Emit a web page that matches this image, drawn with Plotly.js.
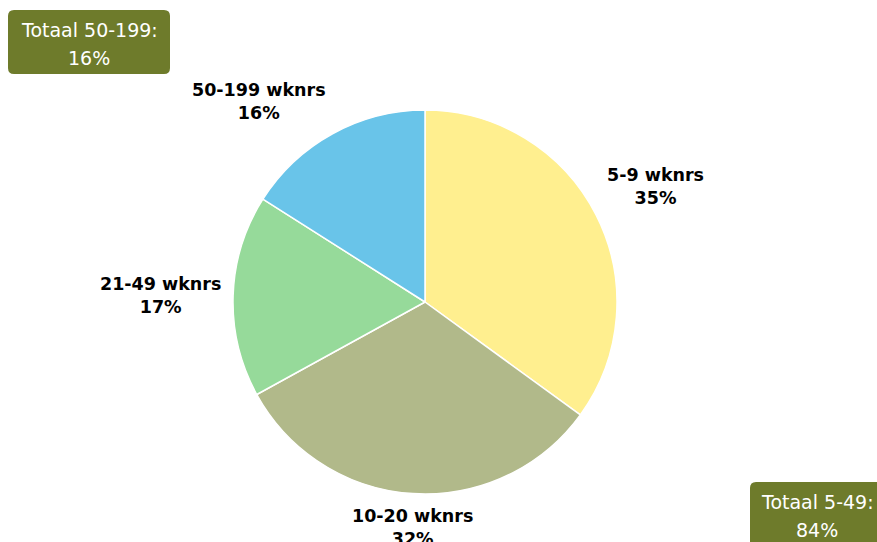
<!DOCTYPE html>
<html>
<head>
<meta charset="utf-8">
<script src="https://cdn.plot.ly/plotly-3.0.1.min.js"></script>
<style>html,body{margin:0;padding:0;background:#fff;}#chart{width:877px;height:542px;}</style>
</head>
<body>
<div id="chart"></div>
<script>
const categories = ['5-9 wknrs', '10-20 wknrs', '21-49 wknrs', '50-199 wknrs'];
const values = [35, 32, 17, 16];
const sliceColors = ['#FFEF8F', '#B1B98A', '#96DA9A', '#69C4E9'];
const totalLabels = ['Totaal 50-199:', 'Totaal 5-49:'];
const totalValues = ['16%', '84%'];

const W = 877, H = 542;
const px = x => x / W;
const py = y => 1 - y / H;

function roundRect(x0, y0, x1, y1, r) {
  return `M ${x0 + r} ${y0} L ${x1 - r} ${y0} Q ${x1} ${y0} ${x1} ${y0 + r} ` +
         `L ${x1} ${y1 - r} Q ${x1} ${y1} ${x1 - r} ${y1} L ${x0 + r} ${y1} ` +
         `Q ${x0} ${y1} ${x0} ${y1 - r} L ${x0} ${y0 + r} Q ${x0} ${y0} ${x0 + r} ${y0} Z`;
}

const boxes = [
  {x0: 8, y0: 10, x1: 170, y1: 74, tx: 89},
  {x0: 750, y0: 482, x1: 900, y1: 560, tx: 817}
];

const shapes = boxes.map(b => ({
  type: 'path', xref: 'x', yref: 'y',
  path: roundRect(b.x0, b.y0, b.x1, b.y1, 6),
  fillcolor: '#6E7B2B', line: {width: 0}, layer: 'above'
}));

const annotations = [];
boxes.forEach((b, i) => {
  annotations.push({x: b.tx, y: b.y0 + 20, xref: 'x', yref: 'y', text: totalLabels[i],
    showarrow: false, font: {family: 'DejaVu Sans', size: 19, color: '#ffffff'}, xanchor: 'center', yanchor: 'middle'});
  annotations.push({x: b.tx, y: b.y0 + 48, xref: 'x', yref: 'y', text: totalValues[i],
    showarrow: false, font: {family: 'DejaVu Sans', size: 19, color: '#ffffff'}, xanchor: 'center', yanchor: 'middle'});
});

// pie geometry (pixels)
const cx = 425, cy = 302, r = 192, gap = 10;

// slice labels placed outside, at each slice's mid-angle
const total = values.reduce((a, b) => a + b, 0);
let cum = 0;
values.forEach((v, i) => {
  const mid = (cum + v / 2) / total * 2 * Math.PI;
  cum += v;
  const s = Math.sin(mid), c = Math.cos(mid);
  const ax = cx + (r + gap) * s;
  const ay = cy - (r + gap) * c;
  const xanchor = Math.abs(s) < 0.3 ? 'center' : (s > 0 ? 'left' : 'right');
  const yanchor = Math.abs(c) < 0.3 ? 'middle' : (c > 0 ? 'bottom' : 'top');
  const pct = Math.round(v / total * 100) + '%';
  annotations.push({
    x: ax, y: ay, xref: 'x', yref: 'y',
    text: '<b>' + categories[i] + '</b><br><b>' + pct + '</b>',
    showarrow: false, xanchor: xanchor, yanchor: yanchor, align: 'center',
    font: {family: 'DejaVu Sans', size: 17.5, color: '#000000'}
  });
});

const trace = {
  type: 'pie',
  labels: categories,
  values: values,
  sort: false,
  direction: 'clockwise',
  rotation: 0,
  marker: {colors: sliceColors, line: {color: '#ffffff', width: 1.5}},
  textinfo: 'none',
  hoverinfo: 'label+percent',
  showlegend: false,
  automargin: false,
  domain: {x: [px(cx - r), px(cx + r)], y: [py(cy + r), py(cy - r)]}
};

const layout = {
  width: W, height: H,
  margin: {l: 0, r: 0, t: 0, b: 0},
  paper_bgcolor: '#ffffff', plot_bgcolor: 'rgba(0,0,0,0)',
  xaxis: {range: [0, W], visible: false, fixedrange: true},
  yaxis: {range: [H, 0], visible: false, fixedrange: true},
  shapes: shapes,
  annotations: annotations,
  showlegend: false
};

Plotly.newPlot('chart', [trace], layout, {displayModeBar: false, staticPlot: true});
</script>
</body>
</html>
